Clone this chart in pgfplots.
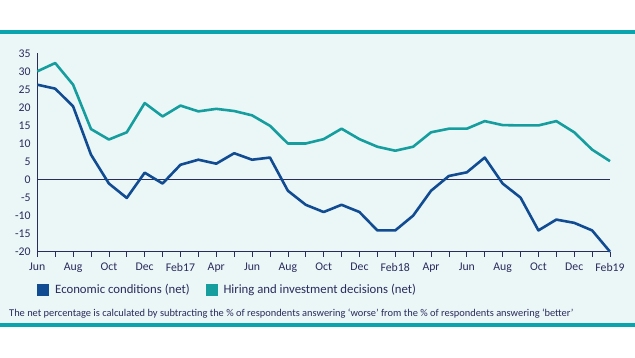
\documentclass[border=0pt]{standalone}
\usepackage{pgfplots}
\pgfplotsset{compat=1.18}
\usepackage{fontspec}
\setmainfont{Carlito}
\definecolor{econ}{HTML}{114C92}
\definecolor{hire}{HTML}{169E9F}
\definecolor{bgc}{HTML}{EBF6F7}
\definecolor{band}{HTML}{0AA4AE}
\definecolor{txt}{HTML}{2A2C5C}
\begin{document}
\begin{tikzpicture}[x=1bp,y=1bp]
\fill[white] (0,0) rectangle (635,357);
\fill[bgc] (0,34.3) rectangle (635,323.3);
\fill[band] (0,323.3) rectangle (635,327.5);
\fill[band] (0,30.3) rectangle (635,34.3);
\begin{axis}[
  at={(37.3bp,105.3bp)}, anchor=south west,
  scale only axis, width=572.7bp, height=198.4bp,
  xmin=0, xmax=32, ymin=-20, ymax=35,
  axis lines*=left,
  axis line style={txt, line width=0.7bp, -},
  ytick={-20,-15,...,35},
  xtick={0,1,...,32},
  xticklabels={Jun,,Aug,,Oct,,Dec,,Feb17,,Apr,,Jun,,Aug,,Oct,,Dec,,Feb18,,Apr,,Jun,,Aug,,Oct,,Dec,,Feb19},
  tick align=outside,
  x tick style={txt, line width=0.7bp},
  xtick pos=bottom,
  major tick length=5bp,
  y tick style={draw=none},
  ticklabel style={font=\fontsize{11.8}{13}\selectfont, text=txt},
  /pgf/number format/assume math mode=true,
  yticklabel style={inner sep=0pt, xshift=-1.5bp},
  xticklabel style={inner sep=0pt, yshift=-6bp},
  clip=false,
]
\draw[txt, line width=0.7bp] (axis cs:0,0) -- (axis cs:32,0);
\addplot[hire, line width=2.6bp, line join=round] coordinates {
(0,30) (1,32.3) (2,26.3) (3,14) (4,11.1) (5,13.1) (6,21.2) (7,17.5) (8,20.5)
(9,18.9) (10,19.6) (11,19) (12,17.8) (13,14.9) (14,10) (15,10) (16,11.2)
(17,14.1) (18,11.2) (19,9.1) (20,8) (21,9.1) (22,13.1) (23,14.1) (24,14.1)
(25,16.2) (26,15.1) (27,15) (28,15) (29,16.2) (30,13.1) (31,8.3) (32,5.1)
};
\addplot[econ, line width=2.6bp, line join=round] coordinates {
(0,26.3) (1,25.2) (2,20.3) (3,6.9) (4,-1.1) (5,-5.1) (6,1.9) (7,-1.1) (8,4.1)
(9,5.5) (10,4.4) (11,7.3) (12,5.5) (13,6.1) (14,-3.1) (15,-7) (16,-9)
(17,-7) (18,-9) (19,-14.1) (20,-14.1) (21,-10) (22,-3.1) (23,1) (24,2)
(25,6.1) (26,-1.1) (27,-5) (28,-14.1) (29,-11.1) (30,-12) (31,-14.1) (32,-20)
};
\end{axis}
\fill[econ] (37,61) rectangle (49,73);
\node[anchor=west, inner sep=0pt, text=txt, font=\fontsize{12.8}{14}\selectfont] at (55,67) {Economic conditions (net)};
\fill[hire] (206,61) rectangle (218,73);
\node[anchor=west, inner sep=0pt, text=txt, font=\fontsize{12.8}{14}\selectfont] at (223.3,67) {Hiring and investment decisions (net)};
\node[anchor=west, inner sep=0pt, text=txt, font=\fontsize{10.45}{12}\selectfont] at (9,43) {The net percentage is calculated by subtracting the \% of respondents answering `worse' from the \% of respondents answering `better'};
\pgfresetboundingbox
\path[use as bounding box] (0,0) rectangle (635,357);
\end{tikzpicture}
\end{document}
